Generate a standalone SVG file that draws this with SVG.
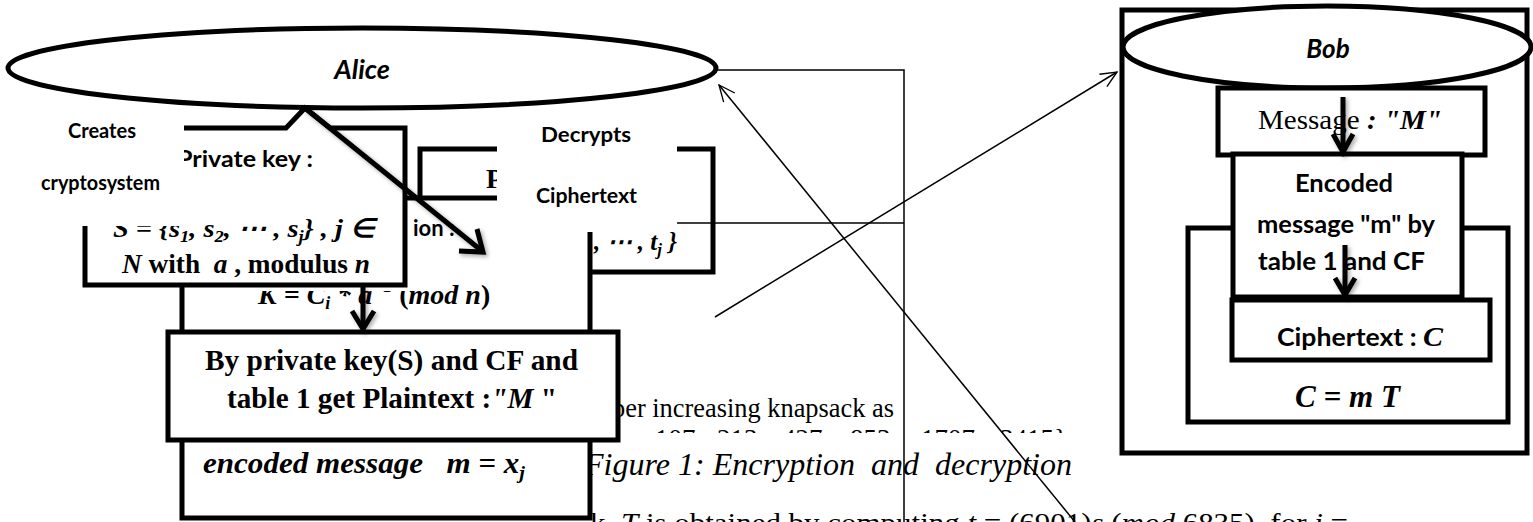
<svg xmlns="http://www.w3.org/2000/svg" width="1533" height="522" viewBox="0 0 1533 522">
<defs>
<style>
.box{fill:#fff;stroke:#000;stroke-width:5}
.oval{fill:#fff;stroke:#000;stroke-width:5}
.wire{fill:none;stroke:#000;stroke-width:1.5}
.heavy{fill:none;stroke:#000;stroke-width:5;stroke-linejoin:miter}
.pad{fill:#fff;stroke:none}
.lbl{font-family:Lato,"Open Sans","Liberation Sans",sans-serif;font-weight:bold;fill:#000}
.tnr{font-family:"Liberation Serif","Times New Roman",serif;fill:#000}
.mth{font-family:"Liberation Serif","Times New Roman",serif;font-weight:bold;font-style:italic;fill:#000}
</style>
<marker id="open" viewBox="0 0 20 20" refX="19" refY="10" markerWidth="18" markerHeight="18" markerUnits="userSpaceOnUse" orient="auto">
<path d="M1 2 L19 10 L1 18" fill="none" stroke="#000" stroke-width="1.5"/>
</marker>
<filter id="shadow" x="-30%" y="-30%" width="160%" height="160%">
<feDropShadow dx="2" dy="2" stdDeviation="2" flood-color="#000" flood-opacity="0.35"/>
</filter>
<clipPath id="clipK"><rect x="0" y="291" width="408" height="40"/><rect x="408" y="265" width="300" height="60"/></clipPath>
<clipPath id="clipDigits"><rect x="590" y="415" width="520" height="18"/></clipPath>
</defs>

<g id="page-text">
<text class="tnr" x="612" y="417" font-size="27" textLength="282" lengthAdjust="spacingAndGlyphs">per increasing knapsack as</text>
<text class="tnr" y="448" font-size="27" clip-path="url(#clipDigits)"><tspan x="606">6,</tspan><tspan x="655">107,</tspan><tspan x="717">213,</tspan><tspan x="782">427,</tspan><tspan x="850">853,</tspan><tspan x="921">1707,</tspan><tspan x="1000">3415}</tspan></text>
<text class="tnr" font-style="italic" x="584" y="475" font-size="31" textLength="488" lengthAdjust="spacingAndGlyphs">Figure 1: Encryption&#160; and&#160; decryption</text>
<text class="tnr" x="590" y="532" font-size="28" textLength="758" lengthAdjust="spacingAndGlyphs">k. <tspan font-style="italic">T</tspan> is obtained by computing <tspan font-style="italic">t</tspan> = (6901)<tspan font-style="italic">s</tspan> (<tspan font-style="italic">mod</tspan> 6835), for <tspan font-style="italic">i</tspan> =</text>
</g>

<g id="bob">
<rect class="box" x="1122" y="10" width="405" height="443"/>
<ellipse class="oval" cx="1327" cy="47" rx="204" ry="41"/>
<text class="lbl" font-style="italic" x="1328" y="58" font-size="26" text-anchor="middle">Bob</text>
</g>

<g id="message">
<rect class="box" x="1218" y="88" width="267" height="67"/>
<text class="tnr" x="1258" y="129" font-size="27" textLength="184" lengthAdjust="spacingAndGlyphs">Message<tspan font-weight="bold" font-style="italic"> : "M"</tspan></text>
</g>

<g id="cmt">
<rect class="box" x="1188" y="228" width="320" height="194"/>
<text class="mth" x="1295" y="407" font-size="32" textLength="105" lengthAdjust="spacingAndGlyphs">C = m T</text>
</g>

<g id="encoded">
<rect class="box" x="1233" y="154" width="229" height="143"/>
<text class="lbl" x="1295" y="192" font-size="24" textLength="98" lengthAdjust="spacingAndGlyphs">Encoded</text>
<text class="lbl" x="1257" y="233" font-size="24" textLength="178" lengthAdjust="spacingAndGlyphs">message "m" by</text>
<text class="lbl" x="1258" y="270" font-size="24" textLength="167" lengthAdjust="spacingAndGlyphs">table 1 and CF</text>
</g>

<g id="ciphertext">
<rect class="box" x="1232" y="300" width="258" height="60"/>
<text class="lbl" x="1277" y="346" font-size="24" textLength="166" lengthAdjust="spacingAndGlyphs">Ciphertext : <tspan class="mth" font-size="27">C</tspan></text>
</g>

<g id="public-key">
<rect class="box" x="420" y="149" width="293" height="123"/>
<text class="tnr" font-weight="bold" x="486" y="188" font-size="28">P</text>
<text class="mth" x="594" y="250" font-size="25">, ⋯ , t<tspan dy="5" font-size="17">j</tspan><tspan dy="-5"> }</tspan></text>
</g>

<g id="alice">
<ellipse class="oval" cx="362" cy="68" rx="354" ry="40"/>
<text class="lbl" font-style="italic" x="362" y="79" font-size="27" text-anchor="middle">Alice</text>
</g>

<g id="decryption">
<rect class="box" x="182" y="198" width="408" height="320"/>
<text class="lbl" x="413" y="236" font-size="22">ion :</text>
<text class="mth" x="258" y="304" font-size="28" clip-path="url(#clipK)">K = C<tspan dy="5" font-size="18">i</tspan><tspan dy="-5"> * a</tspan><tspan dy="-12" font-size="18">−1</tspan><tspan dy="12" font-style="normal"> (</tspan>mod n<tspan font-style="normal">)</tspan></text>
<text class="mth" x="203" y="473" font-size="29" textLength="322" lengthAdjust="spacingAndGlyphs">encoded message&#160;&#160; m = x<tspan dy="6" font-size="19">j</tspan></text>
</g>

<g id="private-key">
<path class="box" d="M85 128 L286 128 L305 108 L330 128 L405 128 L405 285 L85 285 Z"/>
<text class="lbl" x="177" y="167" font-size="22" textLength="136" lengthAdjust="spacingAndGlyphs">Private key :</text>
<text class="mth" x="113" y="237" font-size="26" textLength="262" lengthAdjust="spacingAndGlyphs">S = {s<tspan dy="5" font-size="17">1</tspan><tspan dy="-5">, s</tspan><tspan dy="5" font-size="17">2</tspan><tspan dy="-5">, ⋯ , s</tspan><tspan dy="5" font-size="17">j</tspan><tspan dy="-5">} , j ∈</tspan></text>
<text class="tnr" font-weight="bold" x="122" y="273" font-size="28" textLength="248" lengthAdjust="spacingAndGlyphs"><tspan font-style="italic">N</tspan> with&#160; <tspan font-style="italic">a</tspan> , modulus <tspan font-style="italic">n</tspan></text>
</g>

<g id="plaintext">
<rect class="box" x="168" y="332" width="450" height="108"/>
<text class="tnr" font-weight="bold" x="205" y="370" font-size="30" textLength="373" lengthAdjust="spacingAndGlyphs">By private key(S) and CF and</text>
<text class="tnr" font-weight="bold" x="227" y="408" font-size="30" textLength="330" lengthAdjust="spacingAndGlyphs">table 1 get Plaintext :<tspan font-style="italic">"M</tspan> "</text>
</g>

<g id="label-creates">
<rect class="pad" x="38" y="110" width="146" height="116"/>
<text class="lbl" x="68" y="138" font-size="21" textLength="68" lengthAdjust="spacingAndGlyphs">Creates</text>
<text class="lbl" x="41" y="190" font-size="21" textLength="119" lengthAdjust="spacingAndGlyphs">cryptosystem</text>
</g>

<g id="label-decrypts">
<rect class="pad" x="497" y="110" width="180" height="122"/>
<text class="lbl" x="541" y="142" font-size="21" textLength="90" lengthAdjust="spacingAndGlyphs">Decrypts</text>
<text class="lbl" x="536" y="203" font-size="21" textLength="101" lengthAdjust="spacingAndGlyphs">Ciphertext</text>
</g>

<g id="connectors">
<polyline class="wire" points="716,70 904,70 904,522"/>
<line class="wire" x1="677" y1="223" x2="904" y2="223"/>
<line class="wire" x1="1075" y1="522" x2="719" y2="85" marker-end="url(#open)"/>
<line class="wire" x1="715" y1="317" x2="1117" y2="72" marker-end="url(#open)"/>
<g filter="url(#shadow)">
<line class="heavy" x1="305" y1="108" x2="482" y2="251"/>
<polyline class="heavy" points="459,251 483,252 477,229"/>
<line class="heavy" x1="363" y1="287" x2="363" y2="328"/>
<polyline class="heavy" points="352,311 363,329 374,311"/>
<line class="heavy" x1="1343" y1="97" x2="1343" y2="151"/>
<polyline class="heavy" points="1333,134 1343,152 1353,134"/>
<line class="heavy" x1="1345" y1="245" x2="1345" y2="294"/>
<polyline class="heavy" points="1335,278 1345,295 1355,278"/>
</g>
</g>
</svg>
